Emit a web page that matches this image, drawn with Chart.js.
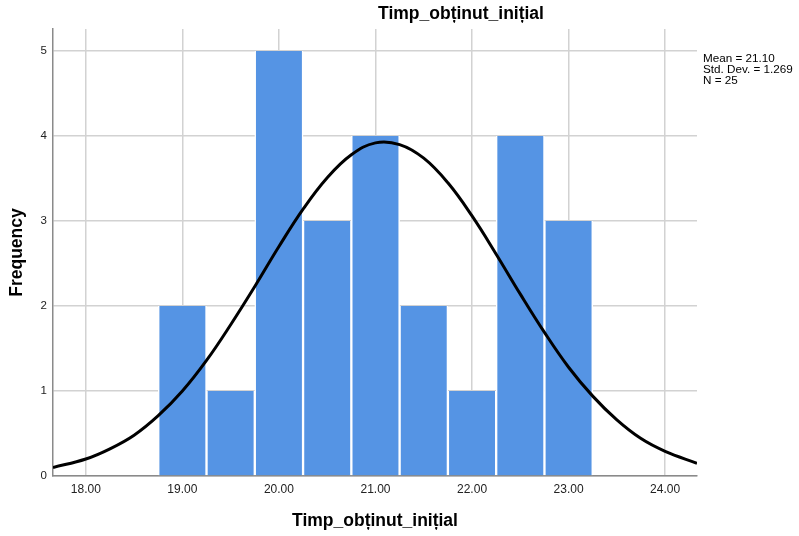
<!DOCTYPE html>
<html>
<head>
<meta charset="utf-8">
<script src="https://cdn.jsdelivr.net/npm/chart.js@4/dist/chart.umd.min.js"></script>
<style>
  body { margin: 0; background: #fff; }
  #wrap { width: 799px; height: 536px; }
</style>
</head>
<body>
<div id="wrap"><canvas id="hist"></canvas></div>
<script>
// histogram bins (centres, width 0.5) and counts
var binCentres = [19.0, 19.5, 20.0, 20.5, 21.0, 21.5, 22.0, 22.5, 23.0];
var counts = [2, 1, 5, 3, 4, 2, 1, 4, 3];

// normal curve
var curveX = [17.66, 18.0, 18.25, 18.5, 18.75, 19.0, 19.25, 19.5, 19.75, 20.0, 20.25, 20.5, 20.75, 21.0,
              21.25, 21.5, 21.75, 22.0, 22.25, 22.5, 22.75, 23.0, 23.25, 23.5, 23.75, 24.0, 24.33];
var curveY = [0.10, 0.20, 0.32, 0.48, 0.71, 1.00, 1.36, 1.78, 2.23, 2.70, 3.14, 3.51, 3.78, 3.92,
              3.90, 3.74, 3.45, 3.06, 2.61, 2.14, 1.69, 1.28, 0.94, 0.66, 0.44, 0.29, 0.15];

var xTicks = [18, 19, 20, 21, 22, 23, 24];
var yTicks = [0, 1, 2, 3, 4, 5];
var stats = ["Mean = 21.10", "Std. Dev. = 1.269", "N = 25"];
var titleText = "Timp_obținut_inițial";

var FONT = "Arial, 'Liberation Sans', sans-serif";

var barData = binCentres.map(function (c, i) { return {x: c, y: counts[i]}; });
var lineData = curveX.map(function (x, i) { return {x: x, y: curveY[i]}; });

var textPlugin = {
  id: 'spssText',
  afterDraw: function (chart) {
    var ctx = chart.ctx;
    ctx.save();
    ctx.fillStyle = '#000';
    ctx.font = 'bold 17.5px ' + FONT;
    ctx.textAlign = 'center';
    ctx.textBaseline = 'middle';
    ctx.fillText(titleText, 461, 14);
    ctx.font = '11.7px ' + FONT;
    ctx.textAlign = 'left';
    for (var i = 0; i < stats.length; i++) {
      ctx.fillText(stats[i], 703, 59 + i * 11);
    }
    ctx.restore();
  }
};

new Chart(document.getElementById('hist'), {
  data: {
    datasets: [{
      type: 'line',
      data: lineData,
      borderColor: '#000',
      borderWidth: 3,
      pointRadius: 0,
      tension: 0.4,
      fill: false,
      order: 0
    }, {
      type: 'bar',
      data: barData,
      backgroundColor: '#5594e4',
      borderColor: '#ffffff',
      borderWidth: { top: 0, left: 1.5, right: 1.5, bottom: 0 },
      barPercentage: 1,
      categoryPercentage: 1,
      order: 1
    }]
  },
  options: {
    responsive: true,
    maintainAspectRatio: false,
    animation: false,
    layout: { padding: { top: 29, right: 102, left: 0, bottom: 0 } },
    plugins: { legend: { display: false }, tooltip: { enabled: false } },
    scales: {
      x: {
        type: 'linear',
        offset: false,
        min: 17.66,
        max: 24.33,
        afterBuildTicks: function (s) { s.ticks = xTicks.map(function (v) { return {value: v}; }); },
        afterFit: function (s) { s.height = 60; },
        ticks: {
          color: '#222',
          font: { family: FONT, size: 12 },
          padding: 6,
          callback: function (v) { return v.toFixed(2); }
        },
        grid: { color: '#d2d2d2', lineWidth: 1.5, drawTicks: false, offset: false },
        border: { color: '#8a8a8a', width: 1.5 },
        title: {
          display: true,
          text: titleText,
          color: '#000',
          font: { family: FONT, size: 17.5, weight: 'bold' },
          padding: { top: 0, bottom: 4 }
        }
      },
      y: {
        min: 0,
        max: 5.26,
        afterBuildTicks: function (s) { s.ticks = yTicks.map(function (v) { return {value: v}; }); },
        afterFit: function (s) { s.width = 53; },
        ticks: {
          color: '#222',
          font: { family: FONT, size: 11.5 },
          padding: 6
        },
        grid: { color: '#d2d2d2', lineWidth: 1.5, drawTicks: false },
        border: { color: '#8a8a8a', width: 1.5 },
        title: {
          display: true,
          text: 'Frequency',
          color: '#000',
          font: { family: FONT, size: 17.5, weight: 'bold' },
          padding: { top: 7, bottom: 0 }
        }
      }
    }
  },
  plugins: [textPlugin]
});
</script>
</body>
</html>
